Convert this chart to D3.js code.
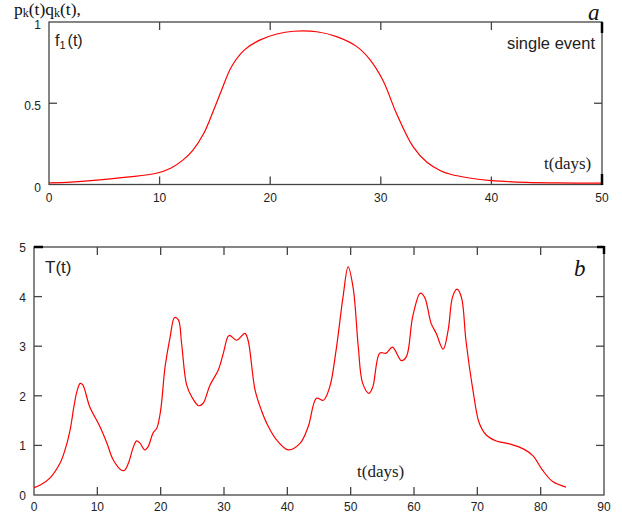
<!DOCTYPE html>
<html>
<head>
<meta charset="utf-8">
<script src="https://d3js.org/d3.v7.min.js"></script>
<style>
  body { margin: 0; background: white; }
  svg { display: block; }
  .tick-label { font-family: "Liberation Sans", Arial, sans-serif; font-size: 12px; fill: #222; }
  .frame { fill: none; stroke: #444; stroke-width: 1.3px; }
  .tk { stroke: #444; stroke-width: 1.3px; }
  .curve { fill: none; stroke: #ff0000; stroke-width: 1.2px; }
</style>
</head>
<body>
<svg id="chart" width="622" height="517"></svg>
<script>
// panel a: single event f1(t)
let tA = [0, 2, 4.6, 7, 9.7, 11, 12.1, 13, 14, 14.9, 15.6, 16.5, 17.7, 19.1, 20.6, 22.1, 24.2, 26, 27.8, 29, 30.2, 31.4, 32.9, 34.2, 35.4, 36.3, 38, 40, 43.2, 46, 50]
let fA = [0.01, 0.015, 0.028, 0.045, 0.069, 0.1, 0.15, 0.21, 0.315, 0.46, 0.58, 0.725, 0.83, 0.89, 0.926, 0.943, 0.94, 0.91, 0.85, 0.77, 0.64, 0.44, 0.235, 0.135, 0.085, 0.063, 0.04, 0.024, 0.013, 0.01, 0.008]
let xTicksA = [0, 10, 20, 30, 40, 50]
let yTicksA = [0, 0.5, 1]

// panel b: T(t)
let tB = [0, 1, 2.5, 4.1, 4.9, 5.7, 6.3, 6.8, 7.3, 7.7, 8.8, 10.4, 11.5, 12.5, 13.8, 14.3, 14.9, 15.7, 16.2, 16.7, 17.5, 18, 18.8, 19.4, 20, 20.7, 21.5, 22.2, 22.8, 23.3, 24.1, 24.9, 26, 26.7, 27.8, 29.1, 29.9, 30.6, 30.9, 32, 33.3, 33.8, 34.9, 35.9, 37, 38.3, 40.1, 42, 43.3, 44.6, 45.7, 46.7, 47.7, 48.8, 49.6, 50.4, 51.2, 51.9, 52.9, 53.5, 54.6, 55.6, 56.6, 58, 58.8, 59.8, 61, 61.7, 62.7, 63.5, 64.6, 65.4, 66.1, 66.8, 67.5, 68.2, 69.3, 70.3, 71.4, 73, 75.1, 77.4, 78.8, 80.3, 81.9, 84]
let TB = [0.15, 0.2, 0.34, 0.64, 0.91, 1.31, 1.78, 2.1, 2.25, 2.22, 1.78, 1.38, 1.05, 0.71, 0.5, 0.5, 0.64, 0.97, 1.09, 1.05, 0.91, 0.97, 1.25, 1.35, 1.71, 2.59, 3.19, 3.58, 3.53, 3.06, 2.22, 1.98, 1.8, 1.85, 2.22, 2.52, 2.86, 3.19, 3.22, 3.12, 3.26, 3.12, 2.12, 1.71, 1.38, 1.11, 0.91, 1.04, 1.38, 1.95, 1.91, 2.18, 2.92, 4.0, 4.6, 4.17, 2.99, 2.25, 2.05, 2.18, 2.86, 2.86, 2.98, 2.71, 2.79, 3.6, 4.07, 3.98, 3.46, 3.26, 2.94, 3.33, 4.0, 4.15, 3.98, 3.12, 2.12, 1.45, 1.21, 1.09, 1.03, 0.92, 0.79, 0.5, 0.27, 0.16]
let xTicksB = [0, 10, 20, 30, 40, 50, 60, 70, 80, 90]
let yTicksB = [0, 1, 2, 3, 4, 5]

let svg = d3.select("#chart")
let tickLen = 8
let sans = "'Liberation Sans', Arial, sans-serif"
let serif = "'Liberation Serif', 'Times New Roman', serif"

function panel(box, xs, ys, xDom, yDom, xTicks, yTicks, xLabelY, yLabelDy) {
    let x = d3.scaleLinear().domain(xDom).range([box.left, box.right])
    let y = d3.scaleLinear().domain(yDom).range([box.bottom, box.top])
    let g = svg.append("g")

    g.append("rect").attr("class", "frame")
        .attr("x", box.left).attr("y", box.top)
        .attr("width", box.right - box.left).attr("height", box.bottom - box.top)

    // inner ticks on all four sides
    xTicks.slice(1, -1).forEach(v => {
        g.append("line").attr("class", "tk").attr("x1", x(v)).attr("x2", x(v)).attr("y1", box.bottom).attr("y2", box.bottom - tickLen)
        g.append("line").attr("class", "tk").attr("x1", x(v)).attr("x2", x(v)).attr("y1", box.top).attr("y2", box.top + tickLen)
    })
    yTicks.slice(1, -1).forEach(v => {
        g.append("line").attr("class", "tk").attr("x1", box.left).attr("x2", box.left + tickLen).attr("y1", y(v)).attr("y2", y(v))
        g.append("line").attr("class", "tk").attr("x1", box.right).attr("x2", box.right - tickLen).attr("y1", y(v)).attr("y2", y(v))
    })

    g.selectAll(".xl").data(xTicks).enter().append("text")
        .attr("class", "tick-label").attr("text-anchor", "middle")
        .attr("x", d => x(d)).attr("y", xLabelY).text(d => d)
    g.selectAll(".yl").data(yTicks).enter().append("text")
        .attr("class", "tick-label").attr("text-anchor", "end")
        .attr("x", box.left - 8).attr("y", d => y(d) + yLabelDy).text(d => d)

    let line = d3.line().x(d => x(d[0])).y(d => y(d[1])).curve(d3.curveCatmullRom.alpha(0.5))
    g.append("path").attr("class", "curve").attr("d", line(d3.zip(xs, ys)))
}

let boxA = {left: 49, right: 602, top: 22, bottom: 184.5}
let boxB = {left: 34, right: 604, top: 247, bottom: 495}

panel(boxA, tA, fA, [0, 50], [0, 1], xTicksA, yTicksA, 202, 7)
panel(boxB, tB, TB, [0, 90], [0, 5], xTicksB, yTicksB, 511, 5)

// heavier corner marks as in the original
function heavy(x1, y1, x2, y2) {
    svg.append("line").attr("x1", x1).attr("y1", y1).attr("x2", x2).attr("y2", y2)
        .attr("stroke", "#000").attr("stroke-width", 2.5)
}
heavy(602, 22, 602, 33)
heavy(602, 174, 602, 185)
heavy(34, 247, 43, 247)
heavy(597, 247, 604, 247)
heavy(604, 246, 604, 254)

// heading text
let head = svg.append("text").attr("x", 14).attr("y", 15.3)
    .style("font-family", serif).style("font-size", "17.5px").attr("fill", "#111")
head.append("tspan").text("p")
head.append("tspan").attr("dy", 1.5).style("font-size", "12px").text("k")
head.append("tspan").attr("dy", -1.5).text("(t)q")
head.append("tspan").attr("dy", 1.5).style("font-size", "12px").text("k")
head.append("tspan").attr("dy", -1.5).text("(t),")

svg.append("text").attr("x", 588).attr("y", 20)
    .style("font-family", serif).style("font-style", "italic").style("font-size", "23px")
    .attr("fill", "#111").text("a")
svg.append("text").attr("x", 574).attr("y", 276)
    .style("font-family", serif).style("font-style", "italic").style("font-size", "23px")
    .attr("fill", "#111").text("b")

// panel a labels
let fl = svg.append("text").attr("x", 55).attr("y", 46)
    .style("font-family", sans).style("font-size", "16px").attr("fill", "#222")
fl.append("tspan").text("f")
fl.append("tspan").attr("dy", 3).style("font-size", "11px").text("1")
fl.append("tspan").attr("dy", -3).attr("dx", 2).text("(t)")

svg.append("text").attr("x", 595).attr("y", 49).attr("text-anchor", "end")
    .style("font-family", sans).style("font-size", "16.5px").attr("fill", "#222")
    .text("single event")

svg.append("text").attr("x", 544).attr("y", 169)
    .style("font-family", serif).style("font-size", "17px").attr("fill", "#222")
    .text("t(days)")

// panel b labels
svg.append("text").attr("x", 45).attr("y", 273)
    .style("font-family", sans).style("font-size", "17px").attr("fill", "#222")
    .text("T(t)")
svg.append("text").attr("x", 357).attr("y", 477)
    .style("font-family", serif).style("font-size", "17px").attr("fill", "#222")
    .text("t(days)")
</script>
</body>
</html>
